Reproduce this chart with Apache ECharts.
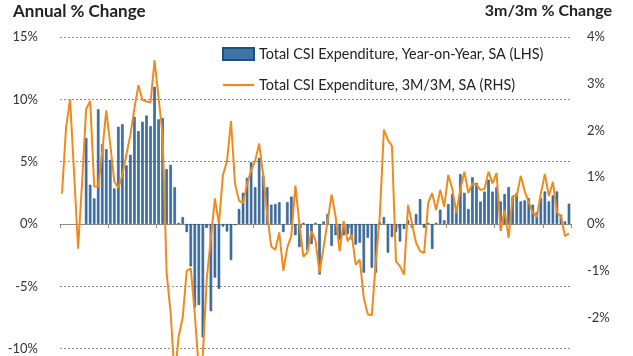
<!DOCTYPE html>
<html><head><meta charset="utf-8">
<script src="https://cdn.jsdelivr.net/npm/echarts@6/dist/echarts.min.js"></script>
<style>html,body{margin:0;padding:0;background:#fff;overflow:hidden}#c{width:633px;height:420px}</style>
</head><body><div id="c"></div>
<script>
// Total CSI Expenditure, Year-on-Year, SA (LHS), % — monthly, first 6 months not shown
const yoy = [null,null,null,null,null,null,
 6.9,3.15,2.05,9.2,6.4,6.0,5.15,2.85,7.8,8.0,4.7,5.55,8.6,7.45,
 8.2,8.7,7.85,11.0,8.4,8.5,4.4,4.75,2.95,0.1,0.55,-0.65,-3.4,-6.7,-6.5,-9.1,
 -0.3,-7.0,-4.3,-5.2,-0.2,-0.6,-2.9,-0.1,1.2,2.5,3.7,4.95,2.95,5.3,
 3.9,2.95,1.55,1.6,1.75,-0.65,1.75,2.2,-0.9,-1.85,0.1,-2.1,-1.6,0.1,
 -4.05,0.2,0.8,-1.75,-0.9,-1.25,-0.9,-0.8,-1.25,-1.65,-1.5,-3.9,-1.1,-3.5,
 -3.9,0.15,0.55,-2.3,-1.05,-0.65,-1.4,-0.4,0.3,-0.3,0.8,2.0,-0.3,0.1,
 -2.0,0.1,1.15,0.3,1.6,2.4,1.2,4.0,2.5,1.2,3.75,3.3,1.8,2.6,
 3.55,2.6,2.96,1.81,2.4,2.96,2.16,2.48,1.81,1.89,2.08,1.55,0.96,2.08,
 2.61,1.81,2.29,2.61,0.75,0.21,1.63];
// Total CSI Expenditure, 3M/3M, SA (RHS), %
const m3m3 = [0.65,2.05,2.67,1.1,-0.53,0.9,2.46,2.63,0.8,0.8,
 1.55,2.43,1.69,0.91,0.77,1.05,1.48,1.91,2.48,2.97,
 2.65,2.62,2.6,3.5,2.7,1.9,-1.05,-1.9,-3.3,-2.4,
 -2.0,-1.0,-0.95,-1.93,-3.1,-2.8,-1.15,-0.3,0.55,0.0,
 1.05,1.34,2.2,0.86,0.5,0.45,0.85,1.15,1.35,1.72,
 1.05,0.2,-0.48,-0.55,-0.18,-1.0,-0.5,-0.25,0.82,0.0,
 -0.7,-0.6,-0.15,-0.35,-1.05,-0.5,0.05,0.63,0.16,-0.58,
 0.06,-0.37,-0.23,-0.87,-0.76,-1.58,-1.93,-1.95,-0.8,0.2,
 2.02,1.8,1.67,-0.8,-0.9,-1.08,0.41,0.0,-0.4,-0.58,
 -0.62,0.45,0.66,0.3,0.73,0.37,1.05,0.75,0.24,0.73,
 1.12,0.66,0.87,0.84,0.73,0.75,1.12,0.87,1.09,-0.15,
 0.3,-0.3,0.6,0.6,1.03,0.7,0.47,0.25,0.15,0.65,
 1.07,0.6,0.9,0.25,0.16,-0.26,-0.2];
const months = [];
for (let i = 0; i < m3m3.length; i++) months.push('M' + (i + 1));
const barName = 'Total CSI Expenditure, Year-on-Year, SA (LHS)';
const lineName = 'Total CSI Expenditure, 3M/3M, SA (RHS)';
const FONT = 'Lato, "Open Sans", sans-serif';

const chart = echarts.init(document.getElementById('c'), null, {renderer: 'canvas'});
chart.setOption({
  animation: false,
  textStyle: {fontFamily: FONT},
  title: [
    {text: 'Annual % Change', left: 13, top: 3, padding: 0,
     textStyle: {fontFamily: FONT, fontSize: 17, fontWeight: 'bold', color: '#222'}},
    {text: '3m/3m % Change', right: 21, top: 3, padding: 0,
     textStyle: {fontFamily: FONT, fontSize: 16, fontWeight: 'bold', color: '#222'}}
  ],
  legend: {
    orient: 'vertical', left: 222, top: 47, padding: 0,
    itemWidth: 31, itemHeight: 12, itemGap: 17,
    textStyle: {fontFamily: FONT, fontSize: 14.4, color: '#222'},
    data: [{name: barName, icon: 'rect'},
           {name: lineName, icon: 'path://M0,0H31V2.2H0Z'}]
  },
  grid: {left: 60, top: 37, right: 62, bottom: 9, containLabel: false},
  xAxis: {
    type: 'category', data: months, boundaryGap: true,
    axisLine: {onZero: true, lineStyle: {color: '#8c8c8c', width: 1}},
    axisTick: {show: true, interval: (i) => i % 12 === 0, length: 4, lineStyle: {color: '#8c8c8c'}},
    axisLabel: {show: false},
    splitLine: {show: false}
  },
  yAxis: [
    {type: 'value', min: -15, max: 15, interval: 5,
     axisLine: {show: false}, axisTick: {show: false},
     axisLabel: {formatter: '{value}%', margin: 22, fontSize: 13, color: '#333', fontFamily: FONT},
     splitLine: {show: true, lineStyle: {color: '#8c8c8c', type: [2, 2], width: 1}}},
    {type: 'value', min: -4, max: 4, interval: 1,
     axisLine: {show: false}, axisTick: {show: false},
     axisLabel: {formatter: '{value}%', margin: 16, fontSize: 13, color: '#333', fontFamily: FONT, align: 'left'},
     splitLine: {show: false}}
  ],
  series: [
    {name: barName, type: 'bar', yAxisIndex: 0, data: yoy, barWidth: '62%',
     itemStyle: {color: '#3f74aa', borderColor: '#214f7c', borderWidth: 0.6}},
    {name: lineName, type: 'line', yAxisIndex: 1, data: m3m3, symbol: 'none', z: 5,
     itemStyle: {color: '#f08a1d'},
     lineStyle: {color: '#f08a1d', width: 2}}
  ]
});
</script></body></html>
